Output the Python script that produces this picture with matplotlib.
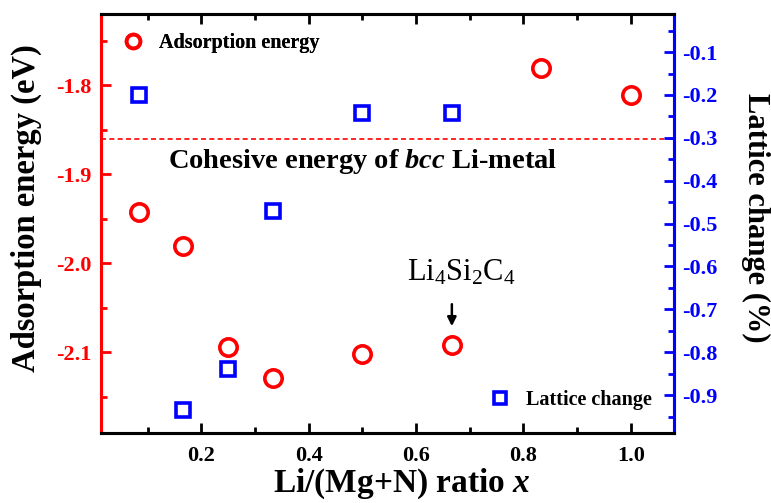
import numpy as np
import matplotlib
matplotlib.use("Agg")
import matplotlib.pyplot as plt
from matplotlib.ticker import MultipleLocator

plt.rcParams["font.family"] = ["Liberation Serif", "DejaVu Serif"]
plt.rcParams["mathtext.fontset"] = "custom"
plt.rcParams["mathtext.rm"] = "Liberation Serif"
plt.rcParams["mathtext.it"] = "Liberation Serif:bold:italic"
plt.rcParams["mathtext.bf"] = "Liberation Serif:bold"

# ── data ──────────────────────────────────────────────────────────────────────
ratio_ads = [1/12, 1/6, 0.25, 1/3, 0.5, 2/3, 5/6, 1.0]
ads_energy = [-1.942, -1.981, -2.094, -2.129, -2.102, -2.092, -1.781, -1.811]

ratio_lat = [1/12, 1/6, 0.25, 1/3, 0.5, 2/3]
lattice_change = [-0.200, -0.934, -0.839, -0.471, -0.242, -0.242]

cohesive_energy = -1.86
x_ticks = [0.2, 0.4, 0.6, 0.8, 1.0]
left_ticks = [-1.8, -1.9, -2.0, -2.1]
right_ticks = [-0.1, -0.2, -0.3, -0.4, -0.5, -0.6, -0.7, -0.8, -0.9]

RED = "#ff0000"
BLUE = "#0000ff"
TICK_FS = 16

fig = plt.figure(figsize=(7.71, 5.03), dpi=100)
ax = fig.add_axes([0.131, 0.139, 0.743, 0.833])
ax2 = ax.twinx()

# ── series ────────────────────────────────────────────────────────────────────
h1, = ax.plot(ratio_ads, ads_energy, ls="none", marker="o", ms=12.5,
              mfc="none", mec=RED, mew=2.6, label="Adsorption energy", zorder=4)
h2, = ax2.plot(ratio_lat, lattice_change, ls="none", marker="s", ms=10.5,
               mfc="none", mec=BLUE, mew=2.6, label="Lattice change", zorder=4)

ax.axhline(cohesive_energy, color=RED, ls=(0, (3, 2)), lw=1.2, zorder=2)
ax.text(0.50, -1.893, "Cohesive energy of $\\mathit{bcc}$ Li-metal",
        ha="center", va="baseline", fontsize=20.5, fontweight="bold")

ax.annotate("", xy=(2/3, -2.074), xytext=(2/3, -2.043),
            arrowprops=dict(arrowstyle="-|>", color="black", lw=1.8,
                            mutation_scale=13))
ax.text(0.685, -2.019, "Li$_4$Si$_2$C$_4$", ha="center", va="baseline",
        fontsize=22)

# ── limits & ticks ────────────────────────────────────────────────────────────
ax.set_xlim(0.0134, 1.08)
ax.set_ylim(-2.191, -1.72)
ax2.set_ylim(-0.9886, -0.0114)

ax.set_xticks(x_ticks)
ax.xaxis.set_minor_locator(MultipleLocator(0.1))
ax.set_yticks(left_ticks)
ax.yaxis.set_minor_locator(MultipleLocator(0.05))
ax2.set_yticks(right_ticks)
ax2.yaxis.set_minor_locator(MultipleLocator(0.05))

ax.set_xticklabels([f"{v:.1f}" for v in x_ticks], fontweight="bold",
                   fontsize=TICK_FS)
ax.set_yticklabels([f"{v:.1f}" for v in left_ticks], fontweight="bold",
                   fontsize=TICK_FS, color=RED)
ax2.set_yticklabels([f"{v:.1f}" for v in right_ticks], fontweight="bold",
                    fontsize=TICK_FS, color=BLUE)

ax.tick_params(axis="x", which="both", direction="in", top=True, width=2)
ax.tick_params(axis="x", which="major", length=7, pad=9)
ax.tick_params(axis="x", which="minor", length=4)
ax.tick_params(axis="y", which="both", direction="in", color=RED, width=2)
ax.tick_params(axis="y", which="major", length=7, pad=7)
ax.tick_params(axis="y", which="minor", length=4)
ax2.tick_params(axis="y", which="both", direction="in", color=BLUE, width=2)
ax2.tick_params(axis="y", which="major", length=7, pad=6)
ax2.tick_params(axis="y", which="minor", length=4)

for a in (ax, ax2):
    for sp in a.spines.values():
        sp.set_linewidth(2.2)
    a.spines["left"].set_color(RED)
    a.spines["right"].set_color(BLUE)

# ── labels ────────────────────────────────────────────────────────────────────
ax.set_xlabel("Li/(Mg+N) ratio $\\mathit{x}$", fontsize=24, fontweight="bold")
ax.xaxis.set_label_coords(0.525, -0.081)
ax.set_ylabel("Adsorption energy (eV)", fontsize=23.5, fontweight="bold")
ax.yaxis.set_label_coords(-0.103, 0.537)
ax2.set_ylabel("Lattice change (%)", fontsize=22, fontweight="bold",
               rotation=270, va="bottom")
ax2.yaxis.set_label_coords(1.117, 0.514)

# ── legends ───────────────────────────────────────────────────────────────────
leg_kw = dict(frameon=False, prop={"weight": "bold", "size": 14.5},
              handletextpad=0.8, markerscale=0.8, handlelength=1.0,
              borderpad=0, borderaxespad=0)
leg1 = ax.legend(handles=[h1], loc="upper left",
                 bbox_to_anchor=(0.0384, 0.955), **leg_kw)
ax.add_artist(leg1)
ax2.legend(handles=[h2], loc="lower left",
           bbox_to_anchor=(0.679, 0.055), **leg_kw)

fig.savefig("out.png", dpi=100)
